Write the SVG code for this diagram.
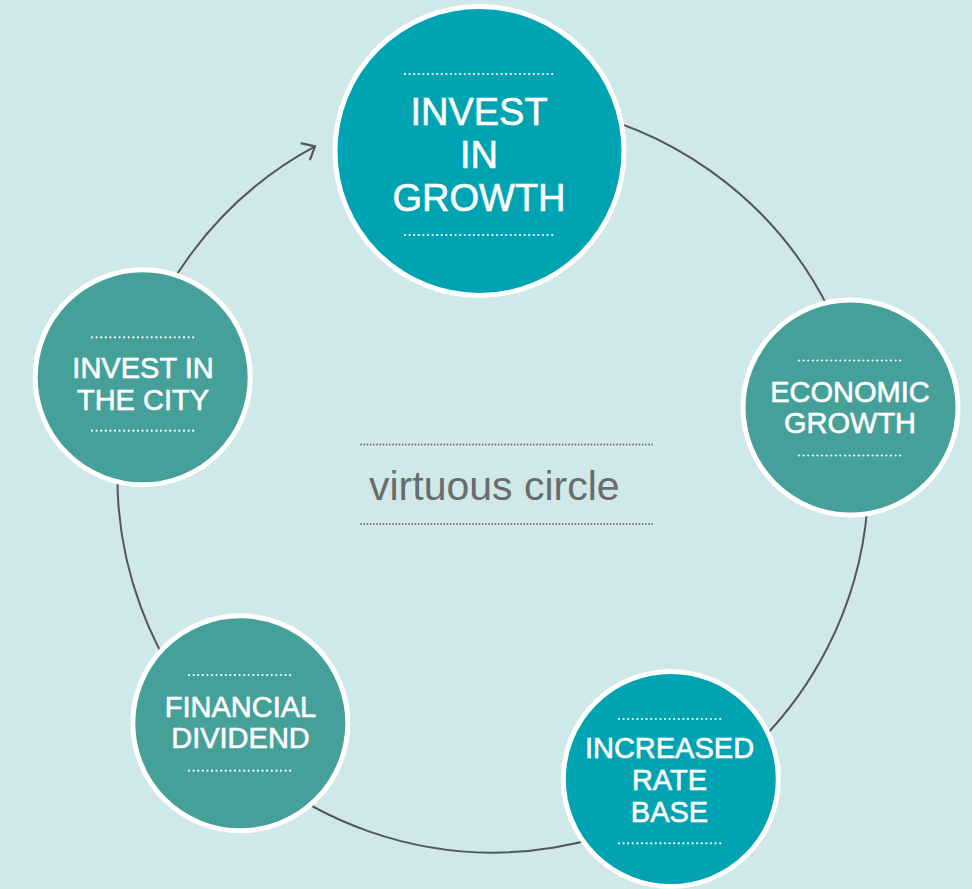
<svg xmlns="http://www.w3.org/2000/svg" width="972" height="889" viewBox="0 0 972 889">
<style>
.node{stroke:#ffffff;stroke-width:5}
.blue{fill:#00a3b2}
.green{fill:#45a09a}
.lbl{font-family:"Liberation Sans",Arial,sans-serif;fill:#ffffff;text-anchor:middle;stroke:#ffffff;stroke-width:0.6}
.dots{stroke:#ffffff;stroke-width:2.2;stroke-linecap:round;stroke-dasharray:0 4.6;fill:none}
.gdots{stroke:#6a6b6d;stroke-width:1.8;stroke-linecap:round;stroke-dasharray:0 3.2;fill:none}
.conn{fill:none;stroke:#555658;stroke-width:2}
</style>
<defs>
<marker id="arr" markerUnits="userSpaceOnUse" orient="auto" markerWidth="30" markerHeight="30" refX="0" refY="0" viewBox="-15 -15 30 30" overflow="visible">
<path d="M -11 -9.7 L 0 0 L -11 9.7" fill="none" stroke="#555658" stroke-width="2.2" stroke-linecap="butt" stroke-linejoin="miter"/>
</marker>
</defs>
<rect x="0" y="0" width="972" height="889" fill="#cfe8ea"/>
<g id="connectors">
<path class="conn" d="M 558.2 107.2 A 375.5 375.5 0 1 1 315 146.4" marker-end="url(#arr)"/>
</g>
<g id="center-label">
<line class="gdots" x1="361" y1="444.5" x2="653" y2="444.5"/>
<text x="369" y="500" font-family="Liberation Sans,Arial,sans-serif" font-size="41" fill="#6a6b6d">virtuous circle</text>
<line class="gdots" x1="361" y1="524" x2="653" y2="524"/>
</g>
<g id="invest-in-growth">
<circle class="node blue" cx="479.5" cy="151" r="144.5"/>
<line class="dots" x1="405" y1="74" x2="554" y2="74"/>
<text class="lbl" x="479" y="125" font-size="38">INVEST</text>
<text class="lbl" x="479" y="168" font-size="38">IN</text>
<text class="lbl" x="479" y="211" font-size="38">GROWTH</text>
<line class="dots" x1="405" y1="235" x2="554" y2="235"/>
</g>
<g id="economic-growth">
<circle class="node green" cx="850.5" cy="407.5" r="107.5"/>
<line class="dots" x1="799" y1="360.5" x2="903" y2="360.5"/>
<text class="lbl" x="850" y="401.5" font-size="29">ECONOMIC</text>
<text class="lbl" x="850" y="433" font-size="29">GROWTH</text>
<line class="dots" x1="799" y1="455.5" x2="903" y2="455.5"/>
</g>
<g id="increased-rate-base">
<circle class="node blue" cx="670.8" cy="779" r="107.5"/>
<line class="dots" x1="619" y1="719" x2="723" y2="719"/>
<text class="lbl" x="669.5" y="758" font-size="29">INCREASED</text>
<text class="lbl" x="669.5" y="790" font-size="29">RATE</text>
<text class="lbl" x="669.5" y="821.5" font-size="29">BASE</text>
<line class="dots" x1="619" y1="843.3" x2="723" y2="843.3"/>
</g>
<g id="financial-dividend">
<circle class="node green" cx="240.3" cy="723.3" r="107.5"/>
<line class="dots" x1="189" y1="675" x2="293" y2="675"/>
<text class="lbl" x="240.5" y="717.3" font-size="29">FINANCIAL</text>
<text class="lbl" x="240.5" y="748.3" font-size="29">DIVIDEND</text>
<line class="dots" x1="189" y1="770.7" x2="293" y2="770.7"/>
</g>
<g id="invest-in-the-city">
<circle class="node green" cx="142.7" cy="377.3" r="107.5"/>
<line class="dots" x1="92" y1="337.3" x2="196" y2="337.3"/>
<text class="lbl" x="143" y="378.3" font-size="29">INVEST IN</text>
<text class="lbl" x="143" y="410" font-size="29">THE CITY</text>
<line class="dots" x1="92" y1="430.7" x2="196" y2="430.7"/>
</g>
</svg>
